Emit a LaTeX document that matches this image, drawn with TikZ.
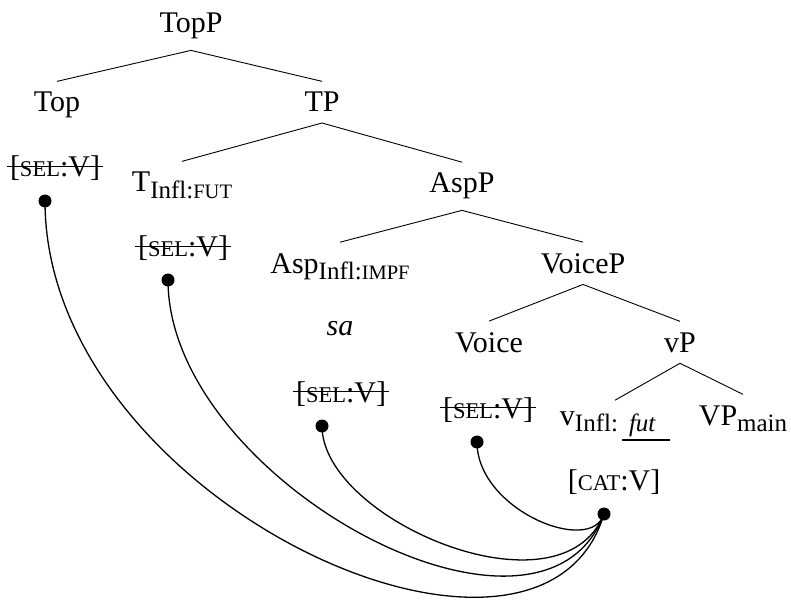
\documentclass[tikz,border=0pt]{standalone}
\usepackage{fontspec}
\setmainfont{Liberation Serif}
\newcommand\subfs{\fontsize{25}{28}\selectfont}
\newcommand\scA[1]{{\fontsize{22.5}{25}\selectfont #1}}
\newcommand\scB[1]{{\fontsize{20.5}{23}\selectfont #1}}
\newcommand\lsub[1]{\raisebox{-6.5pt}{\subfs #1}}
\begin{document}
\begin{tikzpicture}[x=1pt,y=-1pt,
  every node/.style={font=\fontsize{30}{34}\selectfont, inner sep=0pt},
  tn/.style={outer sep=11pt, anchor=base},
  feat/.style={anchor=base},
  dot/.style={circle, fill, minimum size=13pt, inner sep=0pt},
  branch/.style={line width=0.9pt},
  link/.style={line width=1.3pt},
  strike/.style={line width=1.5pt, shorten <=-3pt, shorten >=-3pt}]
\useasboundingbox (0,0) rectangle (791,601);
% tree nodes
\node[tn] (topp) at (191,33) {TopP};
\node[tn] (top) at (57,112) {Top};
\node[tn] (tp) at (322,112) {TP};
\node[tn] (t) at (182,192) {T\lsub{Infl:\scB{FUT}}};
\node[tn] (aspp) at (462,193) {AspP};
\node[tn] (asp) at (340,273) {Asp\lsub{Infl:\scB{IMPF}}};
\node[tn] (voicep) at (583,273) {VoiceP};
\node[tn] (voice) at (489,352) {Voice};
\node[tn] (vp) at (680,352) {vP};
\node[tn] (v) at (615,425) {v\lsub{Infl:\hspace{4pt}\rlap{\raisebox{-9pt}{\rule{48pt}{1.8pt}}}\makebox[48pt][l]{\hspace{7pt}\itshape fut}}};
\node[tn] (vpmain) at (743,425) {VP\lsub{main}};
% branches
\draw[branch] (topp.south) -- (top.north);
\draw[branch] (topp.south) -- (tp.north);
\draw[branch] (tp.south) -- (t.north);
\draw[branch] (tp.south) -- (aspp.north);
\draw[branch] (aspp.south) -- (asp.north);
\draw[branch] (aspp.south) -- (voicep.north);
\draw[branch] (voicep.south) -- (voice.north);
\draw[branch] (voicep.south) -- (vp.north);
\draw[branch] (vp.south) -- (v.north);
\draw[branch] (vp.south) -- (vpmain.north);
% features
\node[feat] (s1) at (55,177) {[\scA{SEL}:V]};
\node[feat] (s2) at (183,257) {[\scA{SEL}:V]};
\node[feat] (sa) at (340,335) {\itshape sa};
\node[feat] (s3) at (341,402) {[\scA{SEL}:V]};
\node[feat] (s4) at (488,418) {[\scA{SEL}:V]};
\node[feat] (cat) at (614,490) {[\scA{CAT}:V]};
\foreach \s in {s1,s2,s3,s4}
  \draw[strike] ([yshift=2pt]\s.west) -- ([yshift=2pt]\s.east);
% dots
\node[dot] (d1) at (45,201) {};
\node[dot] (d2) at (168,280) {};
\node[dot] (d3) at (322,426) {};
\node[dot] (d4) at (477,442) {};
\node[dot] (dc) at (604,514) {};
% links
\draw[link] (d1.center) .. controls +(0,300) and +(-63,212) .. (dc.center);
\draw[link] (d2.center) .. controls +(0,200) and +(-63,167) .. (dc.center);
\draw[link] (d3.center) .. controls +(0,94) and +(-43,107) .. (dc.center);
\draw[link] (d4.center) .. controls +(0,68) and +(-13,42) .. (dc.center);
\end{tikzpicture}
\end{document}
